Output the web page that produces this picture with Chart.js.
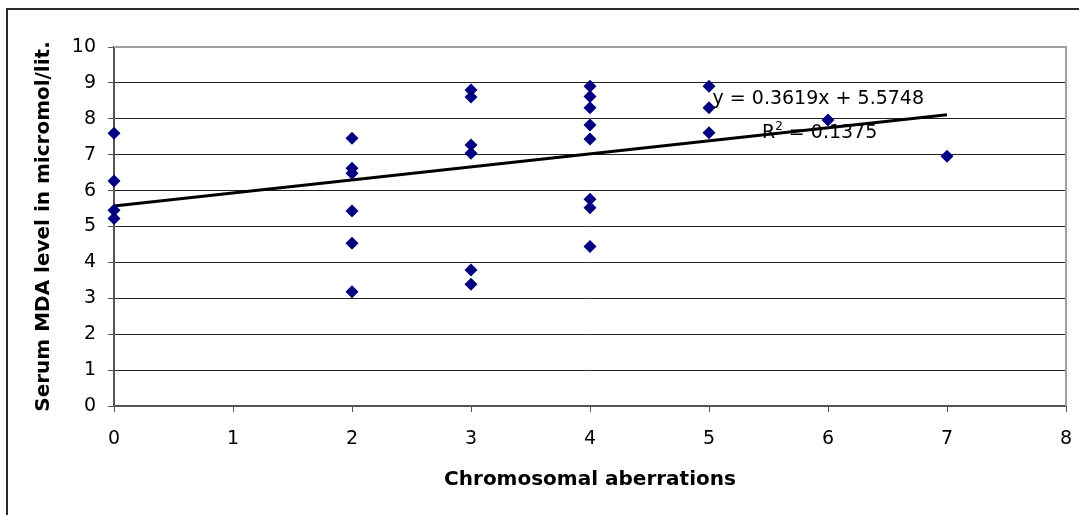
<!DOCTYPE html>
<html>
<head>
<meta charset="utf-8">
<script src="https://cdn.jsdelivr.net/npm/chart.js@4.4.0/dist/chart.umd.min.js"></script>
<style>
  html, body { margin: 0; padding: 0; background: #fff; }
  #wrap { width: 1079px; height: 515px; position: relative; }
</style>
</head>
<body>
<div id="wrap"><canvas id="myScatter"></canvas></div>
<script>
// values
var aberrations = [0, 0, 0, 0, 2, 2, 2, 2, 2, 2, 3, 3, 3, 3, 3, 3, 4, 4, 4, 4, 4, 4, 4, 4, 5, 5, 5, 6, 7];
var mdaLevel = [7.60, 6.27, 5.45, 5.22, 7.46, 6.62, 6.48, 5.43, 4.53, 3.18, 8.80, 8.61, 7.27, 7.04, 3.79, 3.39,
  8.91, 8.62, 8.31, 7.83, 7.44, 5.76, 5.52, 4.44, 8.91, 8.31, 7.61, 7.97, 6.96];
var trendX = [0, 7];
var trendY = [5.57, 8.11];
var equationText = 'y = 0.3619x + 5.5748';
var rSquaredText = ' = 0.1375';

var points = [];
aberrations.forEach(function(x, i) {
  points.push({ x: x, y: mdaLevel[i] });
});
var trendPoints = [];
trendX.forEach(function(x, i) {
  trendPoints.push({ x: x, y: trendY[i] });
});

var tickFont = { family: 'DejaVu Sans', size: 19 };
var titleFont = { family: 'DejaVu Sans', size: 20, weight: 'bold' };

// outer frame + plot border + equation label
var decorations = {
  id: 'decorations',
  beforeDraw: function(chart) {
    var ctx = chart.ctx;
    ctx.save();
    ctx.strokeStyle = '#2b2b2b';
    ctx.lineWidth = 2;
    ctx.strokeRect(7, 9, 2000, 2000);
    ctx.restore();
  },
  beforeDatasetsDraw: function(chart) {
    var ctx = chart.ctx;
    var a = chart.chartArea;
    ctx.save();
    ctx.strokeStyle = '#a0a0a0';
    ctx.lineWidth = 2;
    ctx.beginPath();
    ctx.moveTo(a.left, a.top);
    ctx.lineTo(a.right, a.top);
    ctx.lineTo(a.right, a.bottom);
    ctx.stroke();
    ctx.restore();
  },
  afterDatasetsDraw: function(chart) {
    var ctx = chart.ctx;
    var xs = chart.scales.x;
    var ys = chart.scales.y;
    ctx.save();
    ctx.fillStyle = '#000';
    ctx.textBaseline = 'alphabetic';
    ctx.textAlign = 'left';
    ctx.font = '19px "DejaVu Sans"';
    ctx.fillText(equationText, xs.getPixelForValue(5.03), ys.getPixelForValue(8.41));
    var rx = xs.getPixelForValue(5.445);
    var ry = ys.getPixelForValue(7.465);
    ctx.fillText('R', rx, ry);
    var w = ctx.measureText('R').width;
    ctx.font = '12px "DejaVu Sans"';
    ctx.fillText('2', rx + w, ry - 8);
    var w2 = ctx.measureText('2').width;
    ctx.font = '19px "DejaVu Sans"';
    ctx.fillText(rSquaredText, rx + w + w2, ry);
    ctx.restore();
  }
};

var myScatter = new Chart(document.getElementById('myScatter'), {
  type: 'scatter',
  data: {
    datasets: [{
      data: points,
      pointStyle: 'rectRot',
      radius: 6.5,
      backgroundColor: '#000080',
      borderColor: '#000080',
      borderWidth: 0,
      clip: false
    }, {
      type: 'line',
      data: trendPoints,
      borderColor: '#000',
      borderWidth: 3,
      pointRadius: 0,
      fill: false
    }]
  },
  options: {
    responsive: true,
    maintainAspectRatio: false,
    animation: false,
    layout: { padding: { left: 0, top: 47, right: 0, bottom: 0 } },
    plugins: {
      legend: { display: false },
      tooltip: { enabled: false }
    },
    scales: {
      x: {
        type: 'linear',
        min: 0,
        max: 8,
        afterFit: function(scale) {
          scale.height = 109;
          scale.paddingLeft = 0;
          scale.paddingRight = 13;
        },
        ticks: { stepSize: 1, color: '#000', font: tickFont, padding: 16 },
        grid: { drawOnChartArea: false, drawTicks: true, tickLength: 6, tickColor: '#555' },
        border: { display: true, color: '#555', width: 2 },
        title: { display: true, text: 'Chromosomal aberrations', color: '#000', font: titleFont, padding: { top: 0, bottom: 23 } }
      },
      y: {
        min: 0,
        max: 10,
        afterFit: function(scale) { scale.width = 114; },
        ticks: { stepSize: 1, color: '#000', font: tickFont, padding: 12 },
        grid: {
          color: function(c) { return c.tick && c.tick.value === 10 ? '#a0a0a0' : '#222'; },
          lineWidth: 1,
          tickLength: 6,
          tickColor: '#555'
        },
        border: { display: true, color: '#555', width: 2 },
        title: { display: true, text: 'Serum MDA level in micromol/lit.', color: '#000', font: titleFont, padding: { top: 32, bottom: 0 } }
      }
    }
  },
  plugins: [decorations]
});
</script>
</body>
</html>
